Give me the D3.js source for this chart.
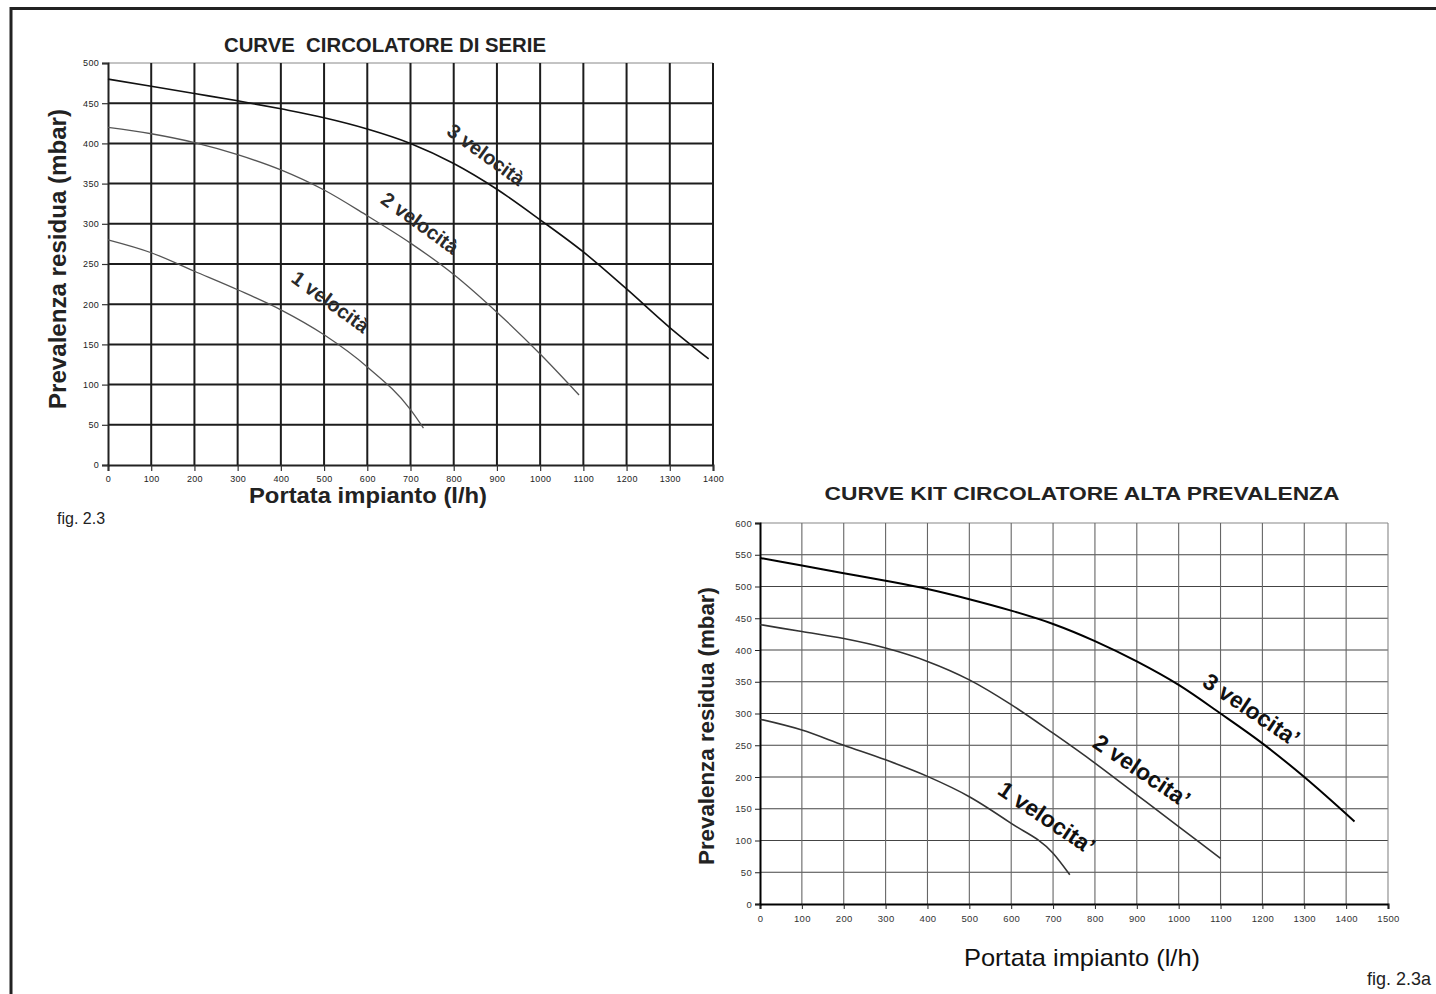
<!DOCTYPE html>
<html><head><meta charset="utf-8">
<script src="https://cdn.jsdelivr.net/npm/d3@7/dist/d3.min.js"></script>
<style>
body{margin:0;background:#fff}
svg text{font-family:"Liberation Sans",Arial,Helvetica,sans-serif}
</style>
</head><body>
<svg id="c" width="1436" height="994"></svg>
<script>
// ---------- Chart A: CURVE CIRCOLATORE DI SERIE ----------
const titleA = "CURVE  CIRCOLATORE DI SERIE";
const xTicksA = [0,100,200,300,400,500,600,700,800,900,1000,1100,1200,1300,1400];
const yTicksA = [0,50,100,150,200,250,300,350,400,450,500];
const flowA3 = [0,100,200,300,400,500,600,700,800,900,1000,1100,1200,1300,1390];
const headA3 = [480,471,462,453,443,432,418,400,375,343,305,265,219,171,132];
const flowA2 = [0,100,200,300,400,500,600,700,800,900,1000,1090];
const headA2 = [420,412,401,386,367,342,310,276,237,190,138,87];
const flowA1 = [0,100,200,300,400,500,600,700,730];
const headA1 = [280,264,241,218,193,162,122,69,46];
const labelsA = ["3 velocità","2 velocità","1 velocità"];
const labelPosA = [[875,386],[722,301],[515,203]];

// ---------- Chart B: CURVE KIT CIRCOLATORE ALTA PREVALENZA ----------
const titleB = "CURVE KIT CIRCOLATORE ALTA PREVALENZA";
const xTicksB = [0,100,200,300,400,500,600,700,800,900,1000,1100,1200,1300,1400,1500];
const yTicksB = [0,50,100,150,200,250,300,350,400,450,500,550,600];
const flowB3 = [0,100,200,300,400,500,600,700,800,900,1000,1100,1200,1300,1420];
const headB3 = [545,533,521,509,496,480,462,441,414,382,345,300,253,200,130];
const flowB2 = [0,100,200,300,400,500,600,700,800,900,1000,1100];
const headB2 = [440,429,418,403,382,353,314,269,222,172,122,72];
const flowB1 = [0,100,200,300,400,500,600,700,740];
const headB1 = [291,274,250,227,201,169,127,80,46];
const labelsB = ["3 velocita’","2 velocita’","1 velocita’"];
const labelPosB = [[1174,306],[912,210],[685,136]];

const yLabel = "Prevalenza residua (mbar)";
const xLabel = "Portata impianto (l/h)";

const svg = d3.select("#c");

// outer frame
svg.append("path").attr("d","M11,994 V8.5 H1436").attr("fill","none")
  .attr("stroke","#222").attr("stroke-width",3);

function zip(xs, ys){ return xs.map((x,i)=>({x, y: ys[i]})); }

// ===== Chart A =====
{
  const x = d3.scaleLinear().domain([0,1400]).range([108,713]);
  const y = d3.scaleLinear().domain([0,500]).range([465,63]);
  const g = svg.append("g");
  g.selectAll(".hg").data(yTicksA.filter(v=>v>0)).join("line")
    .attr("x1",x(0)).attr("x2",x(1400)).attr("y1",d=>y(d)).attr("y2",d=>y(d))
    .attr("stroke",d=>d===500?"#888":"#1c1c1c").attr("stroke-width",d=>d===500?1:2);
  g.selectAll(".vg").data(xTicksA.filter(v=>v>0)).join("line")
    .attr("x1",d=>x(d)).attr("x2",d=>x(d)).attr("y1",y(0)).attr("y2",y(500))
    .attr("stroke","#1c1c1c").attr("stroke-width",2);
  const ax = g.append("g").attr("transform",`translate(0,${y(0)})`)
    .call(d3.axisBottom(x).tickValues(xTicksA).tickSize(6).tickFormat(d=>d));
  const ay = g.append("g").attr("transform",`translate(${x(0)},0)`)
    .call(d3.axisLeft(y).tickValues(yTicksA).tickSize(6).tickFormat(d=>d));
  [ax,ay].forEach(a=>{
    a.select(".domain").attr("stroke","#222").attr("stroke-width",2);
    a.selectAll(".tick line").attr("stroke","#333").attr("stroke-width",1.2);
    a.selectAll("text").attr("font-size",9).attr("fill","#222")
      .attr("font-family","'Liberation Sans',Arial,sans-serif").attr("letter-spacing","0.3px");
  });
  ax.selectAll("text").attr("dy","0.85em");
  const line = d3.line().x(d=>x(d.x)).y(d=>y(d.y)).curve(d3.curveMonotoneX);
  const series = [[flowA3,headA3,"#111",1.6],[flowA2,headA2,"#555",1.3],[flowA1,headA1,"#555",1.3]];
  series.forEach(([fx,hy,c,w])=>{
    g.append("path").datum(zip(fx,hy)).attr("d",line).attr("fill","none")
      .attr("stroke",c).attr("stroke-width",w);
  });
  labelsA.forEach((t,i)=>{
    const [lx,ly] = labelPosA[i];
    g.append("text").text(t).attr("font-size",20).attr("font-weight","bold")
      .attr("fill","#2a2a2a").attr("text-anchor","middle").attr("dominant-baseline","central")
      .attr("textLength",90).attr("lengthAdjust","spacingAndGlyphs")
      .attr("transform",`translate(${x(lx)},${y(ly)}) rotate(36)`);
  });
  svg.append("text").text(titleA).attr("x",385).attr("y",52).attr("text-anchor","middle")
    .attr("font-size",21).attr("font-weight","bold").attr("fill","#222")
    .style("white-space","pre").attr("textLength",322).attr("lengthAdjust","spacingAndGlyphs");
  svg.append("text").text(yLabel).attr("text-anchor","middle").attr("font-size",24)
    .attr("font-weight","bold").attr("fill","#222")
    .attr("textLength",300).attr("lengthAdjust","spacingAndGlyphs")
    .attr("transform","translate(66,259) rotate(-90)");
  svg.append("text").text(xLabel).attr("x",368).attr("y",503).attr("text-anchor","middle")
    .attr("font-size",22).attr("font-weight","bold").attr("fill","#222")
    .attr("textLength",238).attr("lengthAdjust","spacingAndGlyphs");
  svg.append("text").text("fig. 2.3").attr("x",57).attr("y",524)
    .attr("font-size",16).attr("fill","#222");
}

// ===== Chart B =====
{
  const x = d3.scaleLinear().domain([0,1500]).range([760,1388]);
  const y = d3.scaleLinear().domain([0,600]).range([904,523]);
  const g = svg.append("g");
  g.selectAll(".hg").data(yTicksB.filter(v=>v>0)).join("line")
    .attr("x1",x(0)).attr("x2",x(1500)).attr("y1",d=>y(d)).attr("y2",d=>y(d))
    .attr("stroke",d=>d===600?"#888":"#444").attr("stroke-width",1.1);
  g.selectAll(".vg").data(xTicksB.filter(v=>v>0)).join("line")
    .attr("x1",d=>x(d)).attr("x2",d=>x(d)).attr("y1",y(0)).attr("y2",y(600))
    .attr("stroke",d=>d===1500?"#888":"#666").attr("stroke-width",1.1);
  const ax = g.append("g").attr("transform",`translate(0,${y(0)})`)
    .call(d3.axisBottom(x).tickValues(xTicksB).tickSize(5).tickFormat(d=>d));
  const ay = g.append("g").attr("transform",`translate(${x(0)},0)`)
    .call(d3.axisLeft(y).tickValues(yTicksB).tickSize(5).tickFormat(d=>d));
  [ax,ay].forEach(a=>{
    a.select(".domain").attr("stroke","#000").attr("stroke-width",2);
    a.selectAll(".tick line").attr("stroke","#222").attr("stroke-width",1);
    a.selectAll("text").attr("font-size",9.5).attr("fill","#333")
      .attr("font-family","'Liberation Sans',Arial,sans-serif").attr("letter-spacing","0.3px");
  });
  ax.selectAll("text").attr("dy","1.1em");
  const line = d3.line().x(d=>x(d.x)).y(d=>y(d.y)).curve(d3.curveMonotoneX);
  const series = [[flowB3,headB3,"#000",2],[flowB2,headB2,"#333",1.6],[flowB1,headB1,"#333",1.6]];
  series.forEach(([fx,hy,c,w])=>{
    g.append("path").datum(zip(fx,hy)).attr("d",line).attr("fill","none")
      .attr("stroke",c).attr("stroke-width",w);
  });
  labelsB.forEach((t,i)=>{
    const [lx,ly] = labelPosB[i];
    g.append("text").text(t).attr("font-size",23).attr("font-weight","bold")
      .attr("fill","#111").attr("text-anchor","middle").attr("dominant-baseline","central")
      .attr("transform",`translate(${x(lx)},${y(ly)}) rotate(34)`);
  });
  svg.append("text").text(titleB).attr("x",1082).attr("y",500).attr("text-anchor","middle")
    .attr("font-size",19).attr("font-weight","bold").attr("fill","#222")
    .attr("textLength",515).attr("lengthAdjust","spacingAndGlyphs");
  svg.append("text").text(yLabel).attr("text-anchor","middle").attr("font-size",22)
    .attr("font-weight","bold").attr("fill","#222")
    .attr("textLength",278).attr("lengthAdjust","spacingAndGlyphs")
    .attr("transform","translate(714,726) rotate(-90)");
  svg.append("text").text(xLabel).attr("x",1082).attr("y",966).attr("text-anchor","middle")
    .attr("font-size",24).attr("fill","#111")
    .attr("textLength",236).attr("lengthAdjust","spacingAndGlyphs");
  svg.append("text").text("fig. 2.3a").attr("x",1431).attr("y",985).attr("text-anchor","end")
    .attr("font-size",19).attr("fill","#222")
    .attr("textLength",64).attr("lengthAdjust","spacingAndGlyphs");
}
</script>
</body></html>
